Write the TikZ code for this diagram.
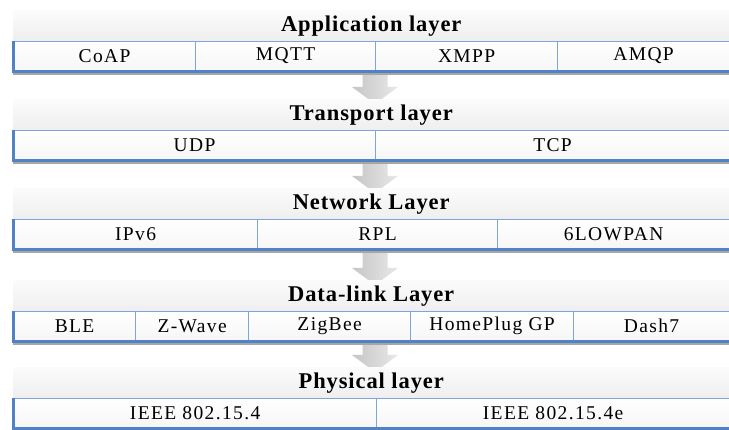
\documentclass[tikz,border=0pt]{standalone}
\usepackage{fontspec}
\setmainfont{Liberation Serif}
\newfontfamily\cellfnt[LetterSpace=7]{Liberation Serif}
\newfontfamily\headfnt[LetterSpace=4]{Liberation Serif}
\usetikzlibrary{calc}
\definecolor{cellblue}{HTML}{7FA4DA}
\definecolor{edgeblue}{HTML}{5282C6}
\tikzset{
  header/.style={rectangle, anchor=north west, inner sep=0pt, minimum width=716, minimum height=31,
    top color=gray!3, bottom color=gray!13, font=\headfnt\bfseries\fontsize{22.5}{22.5}\selectfont},
  cell/.style={rectangle, anchor=north west, inner sep=0pt, draw=cellblue, line width=1.2pt,
    top color=white, bottom color=gray!7, minimum height=29, font=\cellfnt\fontsize{19.5}{19.5}\selectfont},
  rowedge/.style={draw=edgeblue, line width=3pt},
  shadowline/.style={draw=gray!70, line width=1.5pt},
  arrowshade/.style={left color=gray!45, right color=gray!18}
}
\newcommand{\layerarrow}[2]{%
  \shade[arrowshade] ($(#1)+(-12.5,0)$) -- ($(#2)+(-12.5,-17)$) -- ($(#2)+(-23,-17)$) -- (#2)
    -- ($(#2)+(23,-17)$) -- ($(#2)+(12.5,-17)$) -- ($(#1)+(12.5,0)$) -- cycle;}
\newcommand{\rowframe}[2]{%
  \draw[shadowline] ($(#1.south west)+(0,2.6)$) -- ($(#2.south east)+(0,2.6)$);
  \draw[rowedge] (#1.north west) -- (#1.south west) -- (#2.south east);}
\begin{document}
\begin{tikzpicture}[x=1pt,y=-1pt]
\useasboundingbox (0,0) rectangle (729,430);
\fill[white] (0,0) rectangle (729,430);

% arrow end points
\coordinate (a1s) at (375,71);  \coordinate (a1e) at (375,104);
\coordinate (a2s) at (375,160); \coordinate (a2e) at (375,193);
\coordinate (a3s) at (375,249); \coordinate (a3e) at (375,285);
\coordinate (a4s) at (375,341); \coordinate (a4e) at (375,372);
\layerarrow{a1s}{a1e}
\layerarrow{a2s}{a2e}
\layerarrow{a3s}{a3e}
\layerarrow{a4s}{a4e}

% headers
\node[header] (happ) at (13,10)  {Application layer};
\node[header] (htra) at (13,99)  {Transport layer};
\node[header] (hnet) at (13,188) {Network Layer};
\node[header] (hdat) at (13,280) {Data-link Layer};
\node[header] (hphy) at (13,367) {Physical layer};

% application
\node[cell, minimum width=182] (coap) at (13,41)  {CoAP};
\node[cell, minimum width=180] (mqtt) at (195,41) {MQTT};
\node[cell, minimum width=182] (xmpp) at (375,41) {XMPP};
\node[cell, minimum width=172] (amqp) at (557,41) {AMQP};
\rowframe{coap}{amqp}

% transport
\node[cell, minimum width=362] (udp) at (13,130)  {UDP};
\node[cell, minimum width=354] (tcp) at (375,130) {TCP};
\rowframe{udp}{tcp}

% network
\node[cell, minimum width=244] (ipv6) at (13,219)  {IPv6};
\node[cell, minimum width=240] (rpl)  at (257,219) {RPL};
\node[cell, minimum width=232] (lowpan) at (497,219) {6LOWPAN};
\rowframe{ipv6}{lowpan}

% data-link
\node[cell, minimum width=122] (ble)   at (13,311)  {BLE};
\node[cell, minimum width=113] (zwave) at (135,311) {Z-Wave};
\node[cell, minimum width=162] (zigbee) at (248,311) {ZigBee};
\node[cell, minimum width=163] (hpgp)  at (410,311) {HomePlug GP};
\node[cell, minimum width=156] (dash)  at (573,311) {Dash7};
\rowframe{ble}{dash}

% physical
\node[cell, minimum width=363] (ieee)  at (13,398)  {IEEE 802.15.4};
\node[cell, minimum width=353] (ieeee) at (376,398) {IEEE 802.15.4e};
\rowframe{ieee}{ieeee}
\end{tikzpicture}
\end{document}
